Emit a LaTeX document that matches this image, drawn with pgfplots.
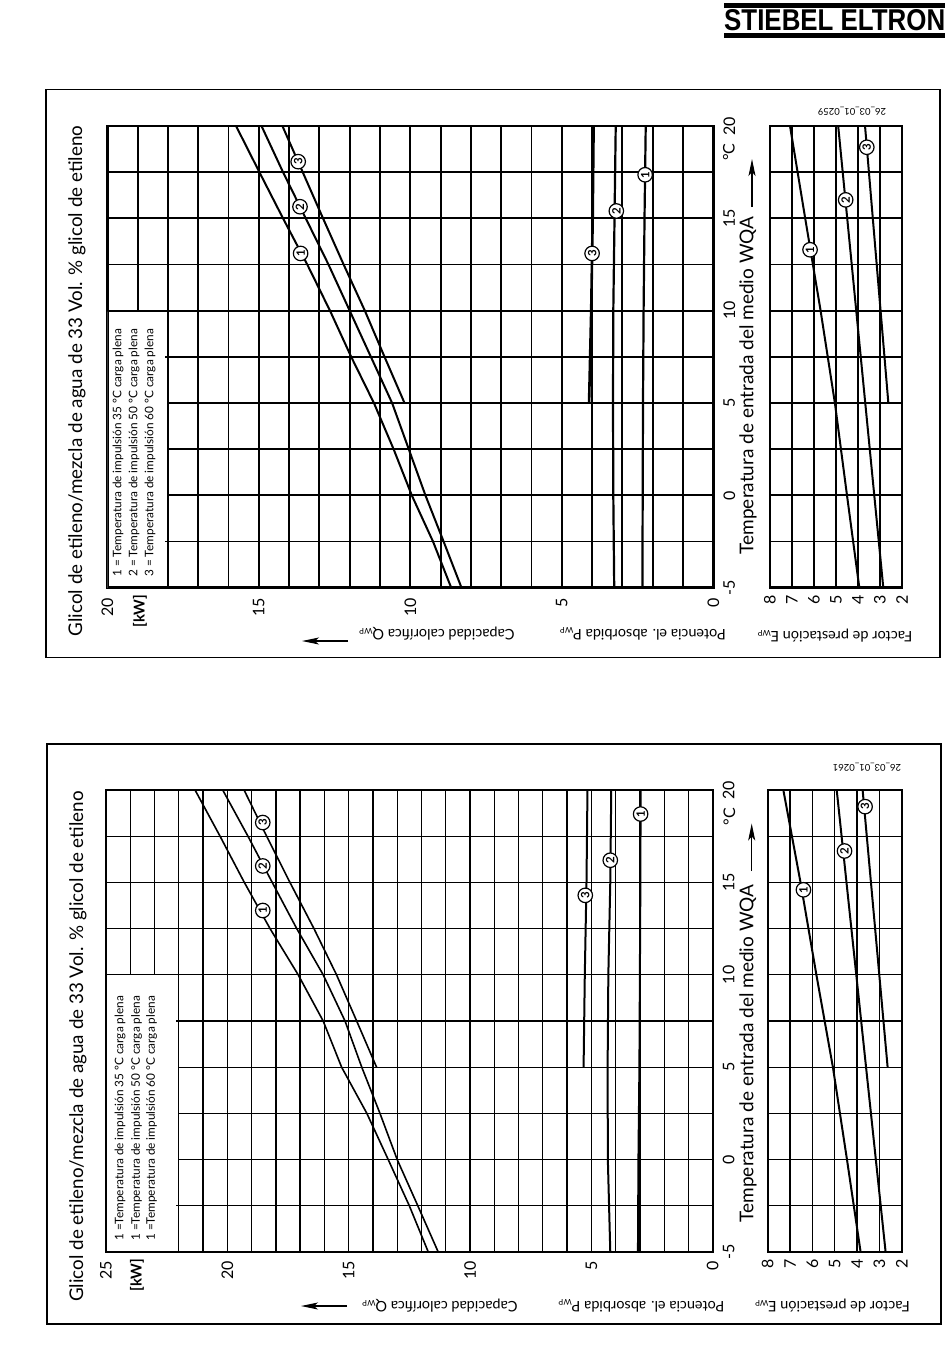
\documentclass[border=0pt]{standalone}
\usepackage{pgfplots}
\pgfplotsset{compat=1.18}
\usepackage{fontspec}
\usepackage{graphicx}
\setmainfont{Lato}
\newfontfamily\logofont{Liberation Sans}
\usetikzlibrary{arrows.meta}

\newcommand\titlefont{\fontsize{18.8}{18.8}\selectfont}
\newcommand\tempfont{\fontsize{19}{19}\selectfont}
\newcommand\legfont{\fontsize{11.8}{11.8}\selectfont}
\newcommand\lblfont{\fontsize{14.5}{14.5}\selectfont}
\newcommand\sub[1]{{\fontsize{8}{8}\selectfont\raisebox{-1.5pt}{#1}}}

\pgfplotsset{
  base/.style 2 args={
    scale only axis, anchor=south west, ymin=-5, ymax=20,
    axis line style={line width=#1, line cap=rect},
    grid=both,
    major grid style={black, line width=#2},
    minor grid style={black, line width=#2},
    major tick length=0pt, minor tick length=0pt,
    ytick={-5,0,5,10,15,20}, minor y tick num=1,
    ticklabel style={font=\fontsize{16}{16}\selectfont, inner sep=0pt},
    /pgf/number format/assume math mode=true,
    xticklabel style={rotate=90, anchor=east},
  },
  cv/.style={black, line width=#1, no markers},
}
\tikzset{
  num/.style={circle, draw, line width=1.2pt, fill=white, inner sep=0pt,
    minimum size=14.5pt, font=\bfseries\fontsize{11.5}{11.5}\selectfont, rotate=90},
  bigarrow/.style={line width=1.2pt, -{Stealth[length=17pt, width=7pt, inset=4pt]}},
}

\begin{document}
\begin{tikzpicture}
\path (0pt,0pt) rectangle (950pt,-1369pt);
% ---------- logo ----------
\fill (724pt,-3.3pt) rectangle (945pt,-7.5pt);
\fill (724pt,-33.3pt) rectangle (945pt,-37.8pt);
\node[anchor=south west, inner sep=0pt] at (724pt,-31pt)
  {\resizebox{221pt}{21pt}{\logofont\bfseries STIEBEL ELTRON}};

% ---------- frames ----------
\draw[line width=1.2pt] (46pt,-89.3pt) rectangle (940pt,-657.3pt);
\draw[line width=1.2pt] (47pt,-744pt) rectangle (941pt,-1324pt);

% ================= TOP PANEL =================
\begin{axis}[base={2.6pt}{1.9pt}, at={(107.3pt,-587.7pt)}, width=606pt, height=461.7pt,
  xmin=0, xmax=20, x dir=reverse, xtick={0,5,10,15,20}, minor x tick num=4,
  xticklabels={0,5,10,15,20}, yticklabels={-5,0,5,10,15,20},
  yticklabel pos=right, yticklabel style={rotate=90, anchor=north},
  xticklabel shift=10pt, yticklabel shift=10pt]
% Q (heating capacity)
\addplot[cv=2pt] coordinates {(8.65,-5) (9.25,-2.5) (9.95,0) (10.55,2.5) (11.2,5) (11.95,7.5) (12.65,10) (13.4,12.5) (14.2,15) (14.98,17.5) (15.75,20)};
\addplot[cv=2pt] coordinates {(8.31,-5) (8.9,-2.5) (9.5,0) (10.05,2.5) (10.6,5) (11.3,7.5) (12.0,10) (12.7,12.5) (13.45,15) (14.2,17.5) (14.91,20)};
\addplot[cv=2pt] coordinates {(10.19,5) (10.85,7.5) (11.5,10) (12.2,12.5) (12.88,15) (13.55,17.5) (14.22,20)};
% P (electric power)
\addplot[cv=2.2pt] coordinates {(2.34,-5) (2.33,0) (2.32,5) (2.3,10) (2.27,15) (2.23,20)};
\addplot[cv=2.2pt] coordinates {(3.27,-5) (3.3,0) (3.31,5) (3.3,10) (3.26,15) (3.22,20)};
\addplot[cv=2.6pt] coordinates {(4.1,5) (4.03,10) (3.98,15) (3.95,20)};
% legend box
\fill[white] (axis cs:20,-5) rectangle (axis cs:18,10);
\draw[line width=1.9pt] (axis cs:18,-5) -- (axis cs:18,10) -- (axis cs:20,10);
\draw[line width=2.6pt] (axis cs:20,10) -- (axis cs:20,-5) -- (axis cs:18,-5);
\draw[line width=1.9pt] (axis cs:18,7.5) -- ++(-3pt,0pt);
\draw[line width=1.9pt] (axis cs:18,-2.5) -- ++(-3pt,0pt);
% curve numbers
\node[num] at (axis cs:13.62,13.1) {1};
\node[num] at (axis cs:13.64,15.63) {2};
\node[num] at (axis cs:13.7,18.07) {3};
\node[num] at (axis cs:4.0,13.1) {3};
\node[num] at (axis cs:3.2,15.4) {2};
\node[num] at (axis cs:2.25,17.36) {1};
\end{axis}

\begin{axis}[base={2.6pt}{1.9pt}, at={(770pt,-587.7pt)}, width=132pt, height=461.7pt,
  xmin=2, xmax=8, x dir=reverse, xtick={2,3,4,5,6,7,8}, xticklabels={2,3,4,5,6,7,8},
  yticklabels={}, xticklabel shift=7pt]
\addplot[cv=2pt] coordinates {(3.94,-5) (4.5,0) (5.05,5) (5.7,10) (6.4,15) (7.09,20)};
\addplot[cv=2pt] coordinates {(2.85,-5) (4.9,20)};
\addplot[cv=2pt] coordinates {(2.62,5) (3.68,20)};
\node[num] at (axis cs:6.18,13.3) {1};
\node[num] at (axis cs:4.56,16.0) {2};
\node[num] at (axis cs:3.6,18.85) {3};
\end{axis}

% texts top panel
\node[rotate=90, font=\titlefont] at (77pt,-381pt) {Glicol de etileno/mezcla de agua de 33 Vol. \% glicol de etileno};
\node[rotate=90, font=\bfseries\fontsize{15}{15}\selectfont] at (140pt,-611pt) {[kW]};
\node[rotate=90, anchor=west, font=\legfont, inner sep=0pt] at (118pt,-577pt) {1 = Temperatura de impulsión 35 °C carga plena};
\node[rotate=90, anchor=west, font=\legfont, inner sep=0pt] at (134pt,-577pt) {2 = Temperatura de impulsión 50 °C carga plena};
\node[rotate=90, anchor=west, font=\legfont, inner sep=0pt] at (150pt,-577pt) {3 = Temperatura de impulsión 60 °C carga plena};
\node[rotate=180, font=\lblfont] at (437pt,-634pt) {Capacidad calorífica Q\sub{WP}};
\node[rotate=180, font=\lblfont] at (643pt,-634pt) {Potencia el. absorbida P\sub{WP}};
\node[rotate=180, font=\lblfont] at (835pt,-636pt) {Factor de prestación E\sub{WP}};
\draw[bigarrow] (348pt,-641pt) -- (302pt,-641pt);
\node[rotate=90, font=\tempfont] at (748pt,-385.5pt) {Temperatura de entrada del medio WQA};
\draw[bigarrow] (752pt,-207pt) -- (752pt,-159pt);
\node[rotate=90, font=\fontsize{16}{16}\selectfont] at (729pt,-152pt) {°C};
\node[rotate=180, font=\fontsize{9.5}{9.5}\selectfont] at (852pt,-111.7pt) {26\_03\_01\_0259};

% ================= BOTTOM PANEL =================
\begin{axis}[base={2.3pt}{1.3pt}, at={(106pt,-1252pt)}, width=606.7pt, height=462pt,
  xmin=0, xmax=25, x dir=reverse, xtick={0,5,10,15,20,25}, minor x tick num=4,
  xticklabels={0,5,10,15,20,25}, yticklabels={-5,0,5,10,15,20},
  yticklabel pos=right, yticklabel style={rotate=90, anchor=north},
  xticklabel shift=9pt, yticklabel shift=10pt]
\addplot[cv=1.6pt] coordinates {(11.72,-5) (12.5,-2.5) (13.37,0) (14.25,2.5) (15.29,5) (16.05,7.5) (17.08,10) (18.24,12.5) (19.3,15) (20.3,17.5) (21.33,20)};
\addplot[cv=1.6pt] coordinates {(11.31,-5) (12.15,-2.5) (13.0,0) (13.71,2.5) (14.46,5) (15.15,7.5) (16.05,10) (17.14,12.5) (18.15,15) (19.15,17.5) (20.19,20)};
\addplot[cv=1.6pt] coordinates {(13.85,5) (14.67,7.5) (15.5,10) (16.43,12.5) (17.42,15) (18.38,17.5) (19.31,20)};
\addplot[cv=2pt] coordinates {(3.08,-5) (3.06,0) (3.02,5) (3.0,10) (2.98,15) (2.97,20)};
\addplot[cv=2pt] coordinates {(4.22,-5) (4.32,0) (4.33,5) (4.3,10) (4.22,15) (4.18,20)};
\addplot[cv=2pt] coordinates {(5.32,5) (5.27,10) (5.2,15) (5.16,20)};
\fill[white] (axis cs:25,-5) rectangle (axis cs:22,10);
\draw[line width=1.3pt] (axis cs:22,-5) -- (axis cs:22,10) -- (axis cs:25,10);
\draw[line width=2.3pt] (axis cs:25,10) -- (axis cs:25,-5) -- (axis cs:22,-5);
\draw[line width=1.3pt] (axis cs:22,7.5) -- ++(-3pt,0pt);
\draw[line width=1.3pt] (axis cs:22,-2.5) -- ++(-3pt,0pt);
\node[num] at (axis cs:18.54,13.48) {1};
\node[num] at (axis cs:18.54,15.89) {2};
\node[num] at (axis cs:18.54,18.24) {3};
\node[num] at (axis cs:5.25,14.3) {3};
\node[num] at (axis cs:4.22,16.2) {2};
\node[num] at (axis cs:2.97,18.7) {1};
\end{axis}

\begin{axis}[base={2.3pt}{1.3pt}, at={(767.7pt,-1252pt)}, width=134pt, height=462pt,
  xmin=2, xmax=8, x dir=reverse, xtick={2,3,4,5,6,7,8}, xticklabels={2,3,4,5,6,7,8},
  yticklabels={}, xticklabel shift=7pt]
\addplot[cv=2pt] coordinates {(3.84,-5) (4.45,0) (5.08,5) (5.82,10) (6.53,15) (7.3,20)};
\addplot[cv=2pt] coordinates {(2.72,-5) (4.91,20)};
\addplot[cv=2pt] coordinates {(2.63,5) (3.75,20)};
\node[num] at (axis cs:6.4,14.6) {1};
\node[num] at (axis cs:4.56,16.7) {2};
\node[num] at (axis cs:3.64,19.1) {3};
\end{axis}

% texts bottom panel
\node[rotate=90, font=\titlefont] at (78pt,-1046.5pt) {Glicol de etileno/mezcla de agua de 33 Vol. \% glicol de etileno};
\node[rotate=90, font=\bfseries\fontsize{15}{15}\selectfont] at (137pt,-1275pt) {[kW]};
\node[rotate=90, anchor=west, font=\legfont, inner sep=0pt] at (120pt,-1241pt) {1 =Temperatura de impulsión 35 °C carga plena};
\node[rotate=90, anchor=west, font=\legfont, inner sep=0pt] at (136.7pt,-1241pt) {1 =Temperatura de impulsión 50 °C carga plena};
\node[rotate=90, anchor=west, font=\legfont, inner sep=0pt] at (151.7pt,-1241pt) {1 =Temperatura de impulsión 60 °C carga plena};
\node[rotate=180, font=\lblfont] at (440pt,-1306pt) {Capacidad calorífica Q\sub{WP}};
\node[rotate=180, font=\lblfont] at (641.5pt,-1306pt) {Potencia el. absorbida P\sub{WP}};
\node[rotate=180, font=\lblfont] at (832.5pt,-1306pt) {Factor de prestación E\sub{WP}};
\draw[bigarrow] (347pt,-1306pt) -- (301pt,-1306pt);
\node[rotate=90, font=\tempfont] at (748pt,-1053.5pt) {Temperatura de entrada del medio WQA};
\draw[bigarrow] (751.7pt,-871pt) -- (751.7pt,-823.5pt);
\node[rotate=90, font=\fontsize{16}{16}\selectfont] at (729.3pt,-816.6pt) {°C};
\node[rotate=180, font=\fontsize{9.5}{9.5}\selectfont] at (867pt,-767pt) {26\_03\_01\_0261};

\pgfresetboundingbox
\path[use as bounding box] (0pt,0pt) rectangle (950pt,-1369pt);
\end{tikzpicture}
\end{document}
